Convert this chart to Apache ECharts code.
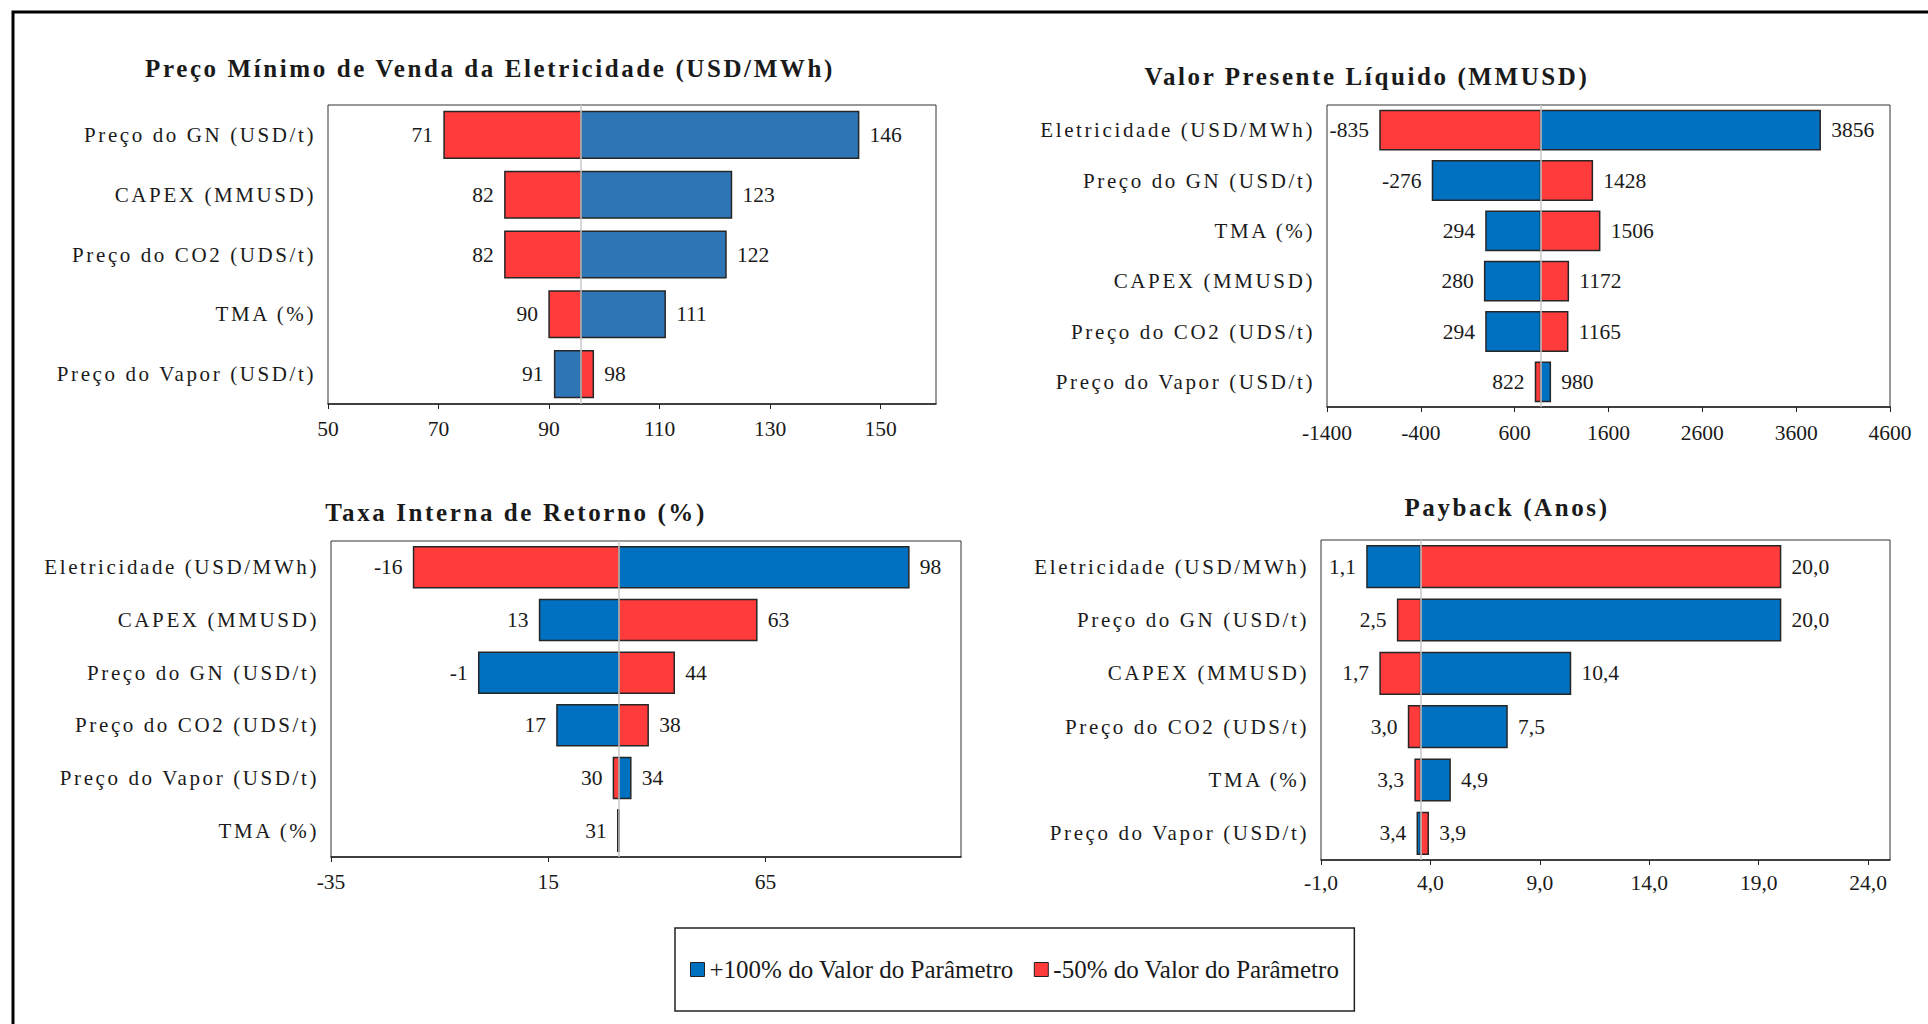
<!DOCTYPE html>
<html>
<head>
<meta charset="utf-8">
<script src="https://cdn.jsdelivr.net/npm/echarts@6/dist/echarts.min.js"></script>
<style>
  html, body { margin: 0; padding: 0; background: #fff; }
  #chart { width: 1928px; height: 1024px; }
  /* expanded character spacing for category labels and panel titles */
  #chart text[style*="21px"] { letter-spacing: 2.6px; }
  #chart text[style*="bold"] { letter-spacing: 2.6px; }
</style>
</head>
<body>
<div id="chart"></div>
<script>
// ---- Preço Mínimo de Venda da Eletricidade (USD/MWh)
const pmvCategories = ['Preço do GN (USD/t)', 'CAPEX (MMUSD)', 'Preço do CO2 (UDS/t)', 'TMA (%)', 'Preço do Vapor (USD/t)'];
const pmvPlus  = [146, 123, 122, 111, 91];
const pmvMinus = [71, 82, 82, 90, 98];
const pmvBase  = 95.8;
const pmvAxis  = { min: 50, max: 160, interval: 20 };

// ---- Valor Presente Líquido (MMUSD)
const vplCategories = ['Eletricidade (USD/MWh)', 'Preço do GN (USD/t)', 'TMA (%)', 'CAPEX (MMUSD)', 'Preço do CO2 (UDS/t)', 'Preço do Vapor (USD/t)'];
const vplPlus  = [3856, -276, 294, 280, 294, 980];
const vplMinus = [-835, 1428, 1506, 1172, 1165, 822];
const vplBase  = 876;
const vplAxis  = { min: -1400, max: 4600, interval: 1000 };

// ---- Taxa Interna de Retorno (%)
const tirCategories = ['Eletricidade (USD/MWh)', 'CAPEX (MMUSD)', 'Preço do GN (USD/t)', 'Preço do CO2 (UDS/t)', 'Preço do Vapor (USD/t)', 'TMA (%)'];
const tirPlus  = [98, 13, -1, 17, 34, 31];
const tirMinus = [-16, 63, 44, 38, 30, 31];
const tirBase  = 31.3;
const tirAxis  = { min: -35, max: 110, interval: 50 };

// ---- Payback (Anos)
const pbCategories = ['Eletricidade (USD/MWh)', 'Preço do GN (USD/t)', 'CAPEX (MMUSD)', 'Preço do CO2 (UDS/t)', 'TMA (%)', 'Preço do Vapor (USD/t)'];
const pbPlus  = [1.1, 20.0, 10.4, 7.5, 4.9, 3.4];
const pbMinus = [20.0, 2.5, 1.7, 3.0, 3.3, 3.9];
const pbBase  = 3.55;
const pbAxis  = { min: -1, max: 25, interval: 5 };

const seriesNames = ['+100% do Valor do Parâmetro', '-50% do Valor do Parâmetro'];

const FONT = 'Liberation Serif';
const INK = '#1a1a1a';
const RED = '#FF3B3B';
const BLUE = '#0070C0';
const BLUE_PMV = '#2E75B6';

const fmtInt = v => String(Math.round(v));
const fmtDec = v => v.toFixed(1).replace('.', ',');

// each bar runs from the base case value to the sensitivity value
function barRenderer(base, fmt, showLabel) {
  return function (params, api) {
    const v = api.value(0);
    const cat = api.value(1);
    const p0 = api.coord([base, cat]);
    const p1 = api.coord([v, cat]);
    const h = api.size([0, 1])[1] * 0.78;
    const children = [{
      type: 'rect',
      shape: { x: Math.min(p0[0], p1[0]), y: p0[1] - h / 2, width: Math.abs(p1[0] - p0[0]), height: h },
      style: { fill: api.visual('color'), stroke: '#262626', lineWidth: 1.5 }
    }];
    if (showLabel[params.dataIndex]) {
      const right = v > base;
      children.push({
        type: 'text',
        x: p1[0] + (right ? 11 : -11),
        y: p1[1],
        style: {
          text: fmt(v), align: right ? 'left' : 'right', verticalAlign: 'middle',
          fill: INK, fontSize: 21.5, fontFamily: FONT
        }
      });
    }
    return { type: 'group', children: children };
  };
}

const panels = [
  { cats: pmvCategories, plus: pmvPlus, minus: pmvMinus, base: pmvBase, axis: pmvAxis, fmt: fmtInt,
    blue: BLUE_PMV, grid: { left: 328, top: 105, width: 608, height: 299 }, labelMargin: 14, showMax: false },
  { cats: vplCategories, plus: vplPlus, minus: vplMinus, base: vplBase, axis: vplAxis, fmt: fmtInt,
    blue: BLUE, grid: { left: 1327, top: 105, width: 563, height: 302 }, labelMargin: 15, showMax: true },
  { cats: tirCategories, plus: tirPlus, minus: tirMinus, base: tirBase, axis: tirAxis, fmt: fmtInt,
    blue: BLUE, grid: { left: 331, top: 541, width: 630, height: 316 }, labelMargin: 14, showMax: false },
  { cats: pbCategories, plus: pbPlus, minus: pbMinus, base: pbBase, axis: pbAxis, fmt: fmtDec,
    blue: BLUE, grid: { left: 1321, top: 540, width: 569, height: 320 }, labelMargin: 12, showMax: false }
];

const titles = [
  { text: 'Preço Mínimo de Venda da Eletricidade (USD/MWh)', x: 490, y: 68 },
  { text: 'Valor Presente Líquido (MMUSD)', x: 1367, y: 76 },
  { text: 'Taxa Interna de Retorno (%)', x: 516, y: 512 },
  { text: 'Payback (Anos)', x: 1507, y: 507 }
];

const grids = [], xAxes = [], yAxes = [], series = [];
panels.forEach((p, i) => {
  grids.push(Object.assign({ show: true, borderColor: '#333', borderWidth: 1, backgroundColor: 'transparent' }, p.grid));
  xAxes.push({
    type: 'value', gridIndex: i, min: p.axis.min, max: p.axis.max, interval: p.axis.interval,
    splitLine: { show: false },
    axisLine: { show: true, onZero: false, lineStyle: { color: '#222', width: 1.5 } },
    axisTick: { show: true, length: 5, lineStyle: { color: '#222', width: 1 } },
    axisLabel: { show: true, margin: p.labelMargin, showMaxLabel: p.showMax, showMinLabel: true,
      fontSize: 21.5, fontFamily: FONT, color: INK, formatter: v => p.fmt(v) }
  });
  yAxes.push({
    type: 'category', gridIndex: i, data: p.cats, inverse: true,
    axisLine: { show: false }, axisTick: { show: false }, splitLine: { show: false },
    axisLabel: { margin: 12, fontSize: 21, fontFamily: FONT, color: INK }
  });
  const plusLabels = p.plus.map(() => true);
  // identical values share one label
  const minusLabels = p.minus.map((v, k) => v !== p.plus[k]);
  series.push({
    type: 'custom', name: seriesNames[0], xAxisIndex: i, yAxisIndex: i,
    itemStyle: { color: p.blue },
    encode: { x: 0, y: 1 },
    data: p.plus.map((v, k) => [v, k]),
    renderItem: barRenderer(p.base, p.fmt, plusLabels)
  });
  series.push({
    type: 'custom', name: seriesNames[1], xAxisIndex: i, yAxisIndex: i,
    itemStyle: { color: RED },
    encode: { x: 0, y: 1 },
    data: p.minus.map((v, k) => [v, k]),
    renderItem: barRenderer(p.base, p.fmt, minusLabels),
    markLine: {
      silent: true, symbol: 'none', animation: false,
      label: { show: false },
      lineStyle: { color: '#C8C8C8', width: 1.5, type: 'solid' },
      data: [{ xAxis: p.base }]
    }
  });
});

const graphics = [
  { type: 'rect', shape: { x: 13, y: 12, width: 1940, height: 1040 },
    style: { fill: 'none', stroke: '#000', lineWidth: 3 }, silent: true }
].concat(titles.map(t => ({
  type: 'text', x: t.x, y: t.y, silent: true,
  style: { text: t.text, align: 'center', verticalAlign: 'middle', fill: INK,
    fontSize: 25, fontWeight: 'bold', fontFamily: FONT }
})));

const chart = echarts.init(document.getElementById('chart'), null, { renderer: 'svg', width: 1928, height: 1024 });
chart.setOption({
  animation: false,
  backgroundColor: '#fff',
  grid: grids,
  xAxis: xAxes,
  yAxis: yAxes,
  series: series,
  graphic: graphics,
  legend: {
    left: 675, top: 928,
    orient: 'horizontal',
    padding: [29, 15, 29, 15],
    borderColor: '#222', borderWidth: 1.5,
    itemWidth: 14, itemHeight: 14, itemGap: 20,
    selectedMode: false,
    icon: 'rect',
    textStyle: { fontSize: 25, fontFamily: FONT, color: INK },
    data: [
      { name: seriesNames[0], itemStyle: { color: BLUE, borderColor: '#222', borderWidth: 1 } },
      { name: seriesNames[1], itemStyle: { color: RED, borderColor: '#222', borderWidth: 1 } }
    ]
  }
});
</script>
</body>
</html>
